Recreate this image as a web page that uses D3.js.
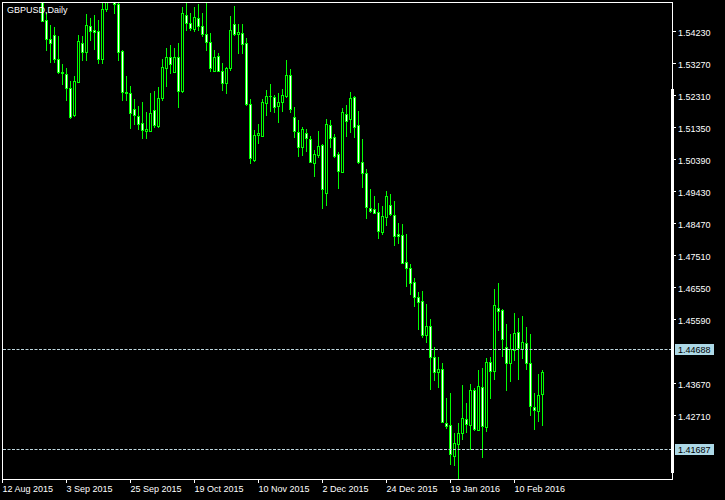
<!DOCTYPE html>
<html><head><meta charset="utf-8">
<script src="https://cdn.jsdelivr.net/npm/d3@7"></script>
<style>
html,body{margin:0;padding:0;background:#000;overflow:hidden}
svg{display:block}
text{font-family:"Liberation Sans",Arial,sans-serif;font-size:9px}
</style>
</head><body>
<svg id="chart" width="725" height="500"></svg>
<script>
const symbolTitle = "GBPUSD,Daily";

const open = [1.5580,1.5615,1.5605,1.5625,1.5615,1.5650,1.5690,1.5700,1.5700,1.5720,
1.5685,1.5456,1.5398,1.5411,1.5338,1.5301,1.5294,1.5251,1.5171,1.5269,
1.5386,1.5361,1.5438,1.5426,1.5423,1.5340,1.5488,1.5600,1.5540,1.5504,
1.5363,1.5241,1.5236,1.5188,1.5169,1.5146,1.5123,1.5124,1.5186,1.5138,
1.5223,1.5313,1.5344,1.5301,1.5344,1.5243,1.5471,1.5446,1.5428,1.5461,
1.5439,1.5413,1.5389,1.5304,1.5348,1.5303,1.5266,1.5311,1.5443,1.5413,
1.5416,1.5386,1.5203,1.5036,1.5112,1.5109,1.5206,1.5227,1.5224,1.5199,
1.5211,1.5229,1.5290,1.5166,1.5119,1.5076,1.5116,1.5098,1.5028,1.5051,
1.5081,1.4938,1.5140,1.5104,1.5054,1.5001,1.5173,1.5158,1.5224,1.5140,
1.5031,1.4996,1.4891,1.4888,1.4879,1.4821,1.4866,1.4901,1.4871,1.4814,
1.4811,1.4729,1.4711,1.4669,1.4624,1.4613,1.4511,1.4538,1.4444,1.4401,
1.4409,1.4246,1.4241,1.4149,1.4183,1.4216,1.4258,1.4241,1.4346,1.4226,
1.4354,1.4236,1.4429,1.4404,1.4591,1.4586,1.4476,1.4426,1.4466,1.4519,
1.4469,1.4486,1.4426,1.4294,1.4284,1.4333];

const high = [1.5647,1.5650,1.5645,1.5650,1.5675,1.5715,1.5735,1.5745,1.5820,1.5750,
1.5700,1.5477,1.5441,1.5436,1.5408,1.5324,1.5311,1.5273,1.5288,1.5411,
1.5408,1.5474,1.5461,1.5471,1.5456,1.5510,1.5660,1.5625,1.5545,1.5513,
1.5366,1.5288,1.5258,1.5218,1.5198,1.5211,1.5181,1.5236,1.5243,1.5256,
1.5339,1.5371,1.5381,1.5371,1.5386,1.5494,1.5506,1.5476,1.5494,1.5504,
1.5476,1.5506,1.5416,1.5366,1.5358,1.5326,1.5316,1.5468,1.5498,1.5444,
1.5444,1.5401,1.5219,1.5126,1.5144,1.5219,1.5246,1.5264,1.5231,1.5236,
1.5249,1.5336,1.5309,1.5196,1.5156,1.5136,1.5129,1.5109,1.5066,1.5123,
1.5084,1.5159,1.5156,1.5114,1.5061,1.5193,1.5201,1.5239,1.5228,1.5183,
1.5099,1.5009,1.4949,1.4928,1.4906,1.4898,1.4943,1.4934,1.4913,1.4846,
1.4844,1.4814,1.4724,1.4683,1.4639,1.4643,1.4604,1.4559,1.4474,1.4446,
1.4428,1.4323,1.4336,1.4218,1.4248,1.4361,1.4306,1.4364,1.4351,1.4406,
1.4411,1.4441,1.4444,1.4648,1.4666,1.4588,1.4544,1.4514,1.4576,1.4561,
1.4568,1.4534,1.4514,1.4336,1.4394,1.4406];

const low = [1.5545,1.5570,1.5580,1.5585,1.5590,1.5610,1.5660,1.5660,1.5640,1.5640,
1.5452,1.5366,1.5331,1.5331,1.5296,1.5263,1.5216,1.5162,1.5169,1.5269,
1.5336,1.5336,1.5396,1.5369,1.5328,1.5328,1.5484,1.5515,1.5478,1.5336,
1.5216,1.5216,1.5133,1.5143,1.5128,1.5103,1.5103,1.5124,1.5136,1.5136,
1.5216,1.5259,1.5296,1.5301,1.5196,1.5241,1.5426,1.5426,1.5424,1.5426,
1.5408,1.5366,1.5303,1.5303,1.5303,1.5246,1.5238,1.5306,1.5411,1.5356,
1.5358,1.5201,1.5027,1.5033,1.5088,1.5109,1.5171,1.5184,1.5179,1.5151,
1.5184,1.5226,1.5181,1.5106,1.5049,1.5051,1.5063,1.5030,1.4988,1.5046,
1.4893,1.4901,1.5076,1.5046,1.4953,1.5000,1.5109,1.5121,1.5104,1.5027,
1.4956,1.4863,1.4879,1.4876,1.4803,1.4814,1.4841,1.4871,1.4781,1.4786,
1.4726,1.4659,1.4634,1.4598,1.4529,1.4504,1.4491,1.4348,1.4376,1.4356,
1.4249,1.4231,1.4124,1.4121,1.4073,1.4199,1.4221,1.4168,1.4226,1.4226,
1.4146,1.4223,1.4323,1.4379,1.4526,1.4448,1.4346,1.4373,1.4436,1.4379,
1.4441,1.4409,1.4271,1.4229,1.4253,1.4241];

const close = [1.5615,1.5605,1.5630,1.5615,1.5650,1.5690,1.5700,1.5700,1.5720,1.5685,
1.5454,1.5398,1.5388,1.5339,1.5299,1.5296,1.5253,1.5165,1.5273,1.5393,
1.5361,1.5441,1.5424,1.5421,1.5340,1.5489,1.5600,1.5540,1.5504,1.5359,
1.5239,1.5238,1.5176,1.5171,1.5145,1.5125,1.5128,1.5176,1.5140,1.5221,
1.5314,1.5344,1.5323,1.5344,1.5244,1.5476,1.5446,1.5433,1.5464,1.5439,
1.5414,1.5391,1.5311,1.5346,1.5303,1.5266,1.5311,1.5426,1.5414,1.5419,
1.5383,1.5203,1.5041,1.5111,1.5116,1.5209,1.5229,1.5227,1.5196,1.5209,
1.5230,1.5290,1.5188,1.5122,1.5076,1.5129,1.5101,1.5031,1.5054,1.5078,
1.4948,1.5143,1.5103,1.5048,1.5004,1.5179,1.5154,1.5221,1.5136,1.5031,
1.4998,1.4896,1.4884,1.4878,1.4824,1.4868,1.4928,1.4874,1.4809,1.4808,
1.4728,1.4713,1.4668,1.4626,1.4611,1.4511,1.4538,1.4444,1.4401,1.4409,
1.4251,1.4239,1.4154,1.4186,1.4216,1.4261,1.4243,1.4346,1.4229,1.4358,
1.4239,1.4429,1.4404,1.4601,1.4584,1.4498,1.4426,1.4468,1.4516,1.4473,
1.4489,1.4426,1.4299,1.4286,1.4331,1.4399];

const xTickIndex = [0,16,32,48,64,80,96,112,128];
const xTickLabels = ["12 Aug 2015","3 Sep 2015","25 Sep 2015","19 Oct 2015","10 Nov 2015",
                     "2 Dec 2015","24 Dec 2015","19 Jan 2016","10 Feb 2016"];
const yTickValues = [1.54230,1.53270,1.52310,1.51350,1.50390,1.49430,1.48470,
                     1.47510,1.46550,1.45590,1.43670,1.42710];
const hLineLevels = [1.44688,1.41687];
const priceMin = 1.4079, priceMax = 1.5510;
const visibleSlots = 167.5;
const scrollMarker = [1.5249,1.4097];

const svg = d3.select("#chart");
const P = {left:2, top:2, right:672, bottom:479};
const green = "#00ff00";

svg.append("rect").attr("width",725).attr("height",500).attr("fill","#000");

const x = d3.scaleLinear().domain([0, visibleSlots]).range([P.left, P.right]);
const y = d3.scaleLinear().domain([priceMin, priceMax]).range([P.bottom, P.top]);
const py = v => Math.round(y(v));

svg.append("defs").append("clipPath").attr("id","plotclip")
  .append("rect").attr("x",P.left+1).attr("y",P.top+1)
  .attr("width",P.right-P.left-1).attr("height",P.bottom-P.top-1);

const bars = d3.range(open.length).map(i => ({i, o:open[i], h:high[i], l:low[i], c:close[i]}));
const g = svg.append("g").attr("clip-path","url(#plotclip)");

// wicks
g.selectAll("line.wick").data(bars).join("line").attr("class","wick")
  .attr("x1", d => Math.round(x(d.i)) + 0.5).attr("x2", d => Math.round(x(d.i)) + 0.5)
  .attr("y1", d => py(d.h)).attr("y2", d => py(d.l) + 1)
  .attr("stroke", green).attr("stroke-width",1);

// bodies
bars.forEach(d => {
  const cx = Math.round(x(d.i));
  const top = py(Math.max(d.o,d.c)), bot = py(Math.min(d.o,d.c));
  if (bot - top < 1) {
    g.append("line").attr("x1",cx-1).attr("x2",cx+2)
      .attr("y1",top+0.5).attr("y2",top+0.5).attr("stroke",green);
  } else {
    g.append("rect").attr("x",cx-0.5).attr("y",top+0.5)
      .attr("width",2).attr("height",bot-top)
      .attr("fill", d.c < d.o ? "#ffffff" : "#000000")
      .attr("stroke",green).attr("stroke-width",1);
  }
});

// horizontal dashed lines
hLineLevels.forEach(v => {
  const yy = py(v);
  svg.append("line").attr("x1",P.left+1).attr("x2",P.right)
    .attr("y1",yy+0.5).attr("y2",yy+0.5)
    .attr("stroke","#c0d8e0").attr("stroke-dasharray","3,1.5");
});

// frame
svg.append("rect").attr("x",P.left+0.5).attr("y",P.top+0.5)
  .attr("width",P.right-P.left).attr("height",P.bottom-P.top)
  .attr("fill","none").attr("stroke","#fff");

// y axis
const yAxis = d3.axisRight(y).tickValues(yTickValues).tickSize(4).tickSizeOuter(0)
  .tickPadding(2).tickFormat(d3.format(".5f"));
const ya = svg.append("g").attr("transform",`translate(${P.right},0)`).call(yAxis);
ya.attr("font-size",null).attr("font-family",null);
ya.selectAll("path,line").attr("stroke","#fff");
ya.selectAll("text").attr("fill","#fff").attr("dy","0.45em");

// x axis
const xAxis = d3.axisBottom(x).tickValues(xTickIndex).tickSize(4).tickSizeOuter(0)
  .tickPadding(3).tickFormat((d,i) => xTickLabels[i]);
const xa = svg.append("g").attr("transform",`translate(0,${P.bottom})`).call(xAxis);
xa.attr("font-size",null).attr("font-family",null);
xa.selectAll("path,line").attr("stroke","#fff");
xa.selectAll("text").attr("fill","#fff").attr("text-anchor","start");

// scroll marker at right edge
svg.append("rect").attr("x",P.right-1).attr("y",py(scrollMarker[0]))
  .attr("width",3).attr("height",py(scrollMarker[1]) - py(scrollMarker[0]))
  .attr("fill","#fff");

// level labels
hLineLevels.forEach(v => {
  const yy = py(v);
  svg.append("rect").attr("x",P.right+3).attr("y",yy-5)
    .attr("width",39).attr("height",11).attr("fill","#add8e6");
  svg.append("text").attr("x",P.right+6).attr("y",yy+4)
    .attr("fill","#000").text(d3.format(".5f")(v));
});

// title
svg.append("text").attr("x",7).attr("y",13).attr("fill","#fff").text(symbolTitle);
</script>
</body></html>
